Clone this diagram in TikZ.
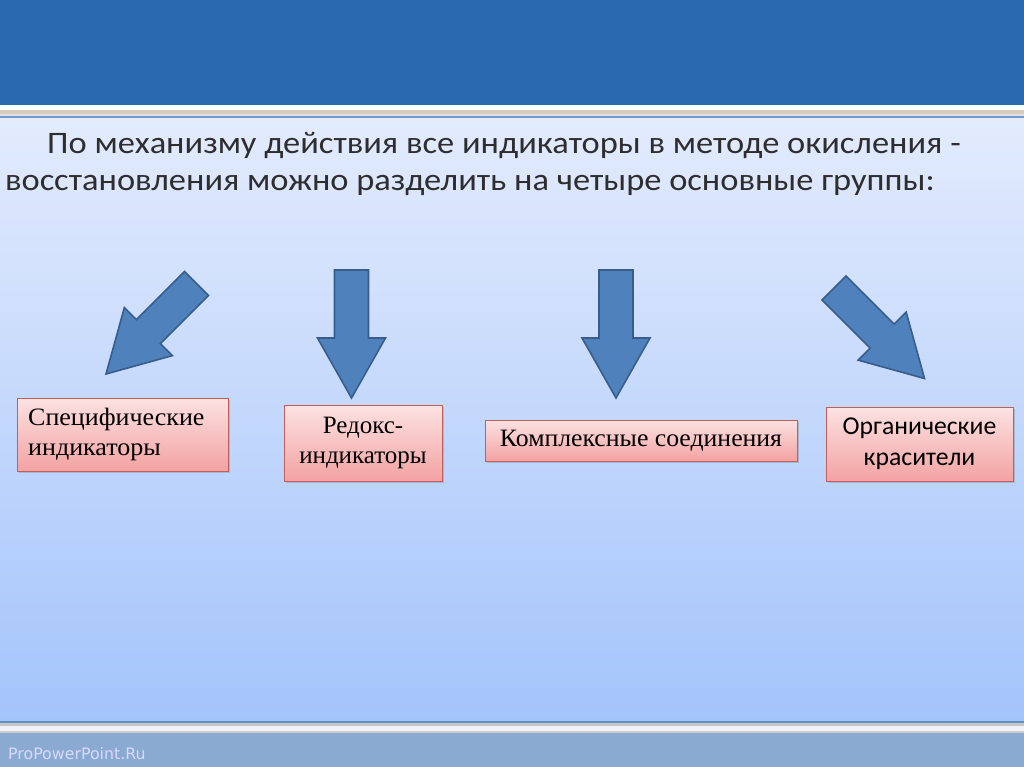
\documentclass[tikz,border=0pt]{standalone}
\usepackage{fontspec}
\setmainfont{Liberation Serif}
\newfontfamily\calibri{Carlito}
\newfontfamily\footfont{DejaVu Sans}
\usetikzlibrary{shadows}
\definecolor{bandblue}{HTML}{2A69B0}
\definecolor{paletop}{HTML}{E3EBFD}
\definecolor{palebot}{HTML}{A3C4FB}
\definecolor{footblue}{HTML}{8AAAD2}
\definecolor{arrowfill}{HTML}{4F81BD}
\definecolor{arrowline}{HTML}{385D8A}
\definecolor{pinktop}{HTML}{FCE2E2}
\definecolor{pinkbot}{HTML}{F3A2A2}
\definecolor{pinkline}{HTML}{C0605C}
\definecolor{textgray}{HTML}{2E2E2E}
\tikzset{
    arrowbody/.style={fill=arrowfill, draw=arrowline, line width=1.6pt, line join=miter},
    pics/blockarrow/.style={code={
        \draw[arrowbody] (-17,0) -- (17,0) -- (17,68) -- (34,68) -- (0,128) -- (-34,68) -- (-17,68) -- cycle;}},
    groupbox/.style={draw=pinkline, line width=0.8pt, top color=pinktop, bottom color=pinkbot,
        drop shadow={shadow xshift=2pt, shadow yshift=-2pt, opacity=0.35},
        inner sep=0pt, font=\fontsize{25}{30}\selectfont, text=black},
    headline/.style={anchor=base west, inner sep=0pt, xscale=1.1, transform shape, text=textgray,
        font=\calibri\fontsize{31.3}{33}\selectfont}
}
\begin{document}
\begin{tikzpicture}[x=1pt,y=-1pt]
    \useasboundingbox (0,0) rectangle (1024,767);
    % background and bands
    \shade[top color=paletop, bottom color=palebot] (0,118) rectangle (1024,722);
    \fill[bandblue] (0,0) rectangle (1024,105);
    \fill[white] (0,105) rectangle (1024,110);
    \fill[black!35!brown!30] (0,110) rectangle (1024,114);
    \fill[gray!25] (0,114) rectangle (1024,116);
    \fill[arrowfill!80] (0,116) rectangle (1024,118);
    \fill[arrowfill!90] (0,721) rectangle (1024,723);
    \fill[gray!45] (0,723) rectangle (1024,726);
    \fill[white!95!blue] (0,726) rectangle (1024,731);
    \fill[gray!40] (0,731) rectangle (1024,733);
    \fill[footblue] (0,733) rectangle (1024,767);
    \node[anchor=base west, inner sep=0pt, text=blue!15!white, font=\footfont\fontsize{15.8}{17}\selectfont] (footer) at (8,759) {ProPowerPoint.Ru};
    % heading
    \node[headline] (line1) at (47,154) {По механизму действия все индикаторы в методе окисления -};
    \node[headline] (line2) at (5,191) {восстановления можно разделить на четыре основные группы:};
    % arrows
    \pic[rotate=-45] at (196.5,283.5) {blockarrow};
    \foreach \x in {351.5,616}
        \pic at (\x,270) {blockarrow};
    \pic[rotate=45] at (834,288) {blockarrow};
    % groups
    \node[groupbox, minimum width=211pt, minimum height=73pt] (spec) at (122.5,434.5) {};
    \node[anchor=north west, inner sep=0pt, text width=189pt, align=left, font=\fontsize{25}{30}\selectfont] (spectext) at (28,408)
        {\scalebox{1.04}[1]{Специфические}\\\scalebox{1.04}[1]{индикаторы}};
    \node[groupbox, minimum width=158pt, minimum height=76pt, align=center] (redox) at (363,443)
        {Редокс-\\индикаторы};
    \node[groupbox, minimum width=312pt, minimum height=41pt, align=center] (complex) at (641,440.5)
        {\scalebox{1.03}[1]{Комплексные соединения}};
    \node[groupbox, minimum width=187pt, minimum height=74pt, align=center, font=\calibri\fontsize{25.7}{31}\selectfont] (organic) at (919.5,444)
        {Органические\\красители};
\end{tikzpicture}
\end{document}
